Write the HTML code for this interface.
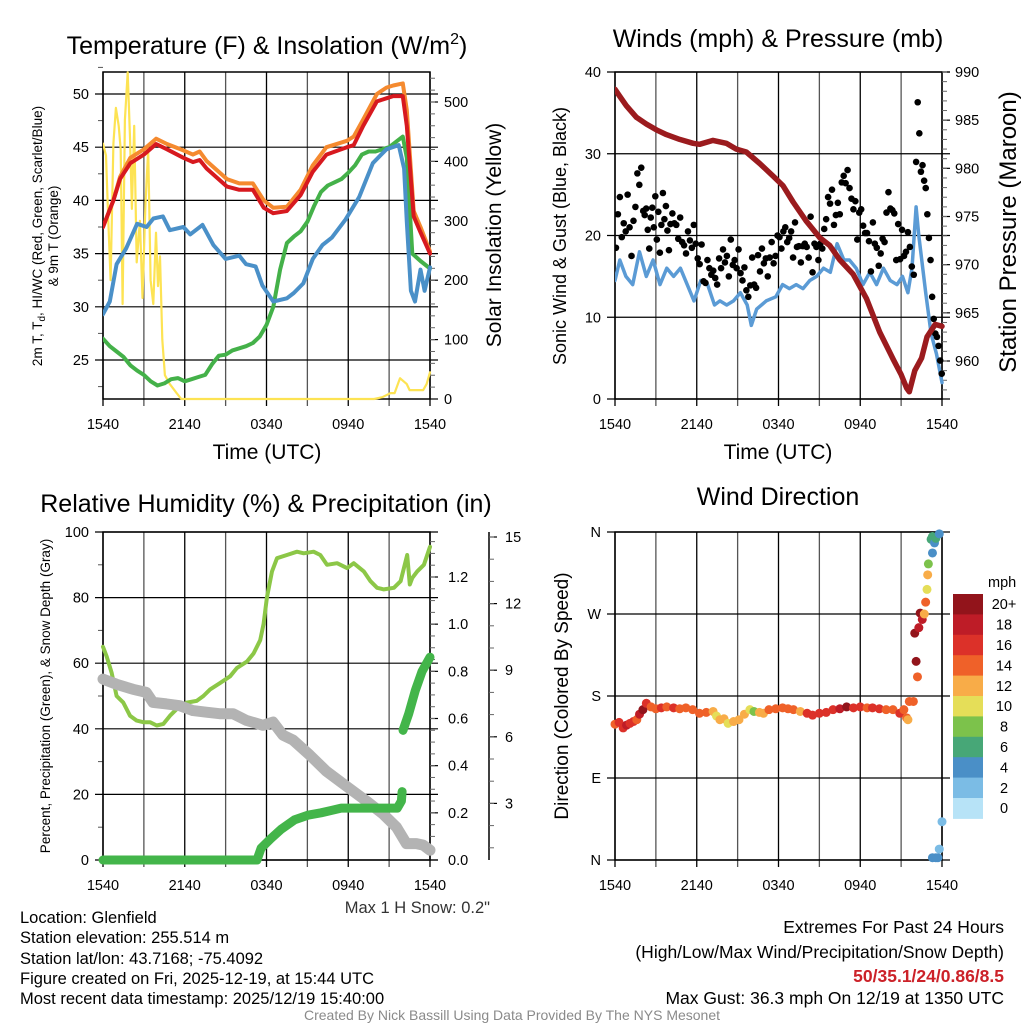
<!DOCTYPE html>
<html><head><meta charset="utf-8">
<style>
html,body{margin:0;padding:0;background:#fff;}
svg{display:block;font-family:"Liberation Sans",Arial,sans-serif;}
</style></head>
<body>
<svg id="chart" width="1024" height="1024" viewBox="0 0 1024 1024" xmlns="http://www.w3.org/2000/svg">
<rect width="1024" height="1024" fill="#fff"/>
<g id="layer"></g>
<!-- static text -->
<text x="267" y="54" font-size="25" text-anchor="middle">Temperature (F) &amp; Insolation (W/m<tspan dy="-10" font-size="16">2</tspan><tspan dy="10">)</tspan></text>
<text x="778" y="47" font-size="25" text-anchor="middle">Winds (mph) &amp; Pressure (mb)</text>
<text x="266" y="512" font-size="25" text-anchor="middle">Relative Humidity (%) &amp; Precipitation (in)</text>
<text x="778" y="505" font-size="25" text-anchor="middle">Wind Direction</text>

<text x="267" y="459" font-size="21" text-anchor="middle">Time (UTC)</text>
<text x="778" y="459" font-size="21" text-anchor="middle">Time (UTC)</text>

<text transform="translate(42,236) rotate(-90)" font-size="13.5" text-anchor="middle">2m T, T<tspan dy="3" font-size="10">d</tspan><tspan dy="-3">, HI/WC (Red, Green, Scarlet/Blue)</tspan></text>
<text transform="translate(58,236) rotate(-90)" font-size="13.5" text-anchor="middle">&amp; 9m T (Orange)</text>
<text transform="translate(501,235) rotate(-90)" font-size="21" text-anchor="middle">Solar Insolation (Yellow)</text>
<text transform="translate(566,236) rotate(-90)" font-size="18" text-anchor="middle">Sonic Wind &amp; Gust (Blue, Black)</text>
<text transform="translate(1016,232) rotate(-90)" font-size="24" text-anchor="middle">Station Pressure (Maroon)</text>
<text transform="translate(50,696) rotate(-90)" font-size="13.5" text-anchor="middle">Percent, Precipitation (Green), &amp; Snow Depth (Gray)</text>
<text transform="translate(568,696) rotate(-90)" font-size="19" text-anchor="middle">Direction (Colored By Speed)</text>

<text x="490" y="913" font-size="16.5" fill="#333" text-anchor="end">Max 1 H Snow: 0.2"</text>

<g font-size="16.5">
<text x="20" y="923">Location: Glenfield</text>
<text x="20" y="943">Station elevation: 255.514 m</text>
<text x="20" y="964">Station lat/lon: 43.7168; -75.4092</text>
<text x="20" y="984">Figure created on Fri, 2025-12-19, at 15:44 UTC</text>
<text x="20" y="1004">Most recent data timestamp: 2025/12/19 15:40:00</text>
</g>
<g font-size="17.5" text-anchor="end">
<text x="1004" y="933">Extremes For Past 24 Hours</text>
<text x="1004" y="958">(High/Low/Max Wind/Precipitation/Snow Depth)</text>
<text x="1004" y="982" fill="#cc2229" font-weight="bold">50/35.1/24/0.86/8.5</text>
<text x="1004" y="1004">Max Gust: 36.3 mph On 12/19 at 1350 UTC</text>
</g>
<text x="512" y="1020" font-size="14" fill="#8a8a8a" text-anchor="middle">Created By Nick Bassill Using Data Provided By The NYS Mesonet</text>
</svg>
<script>
// ---------- DATA ----------
const timeTickLabels = ["1540","2140","0340","0940","1540"];
// Panel 1 (hours since 1540 UTC)
const tempHours = [0,0.76,1.25,2,3,3.9,4.7,5.9,6.6,7.1,7.6,9.1,10,11,11.8,12.5,13.5,14.5,15.4,16.4,17.9,18.4,19.1,20.1,20.8,21.3,22,22.3,22.8,23.3,24];
const tempRed    = [37.5,40,42,43.5,44.3,45.3,44.8,44,43.6,43.8,43,41.3,41,41,39.3,38.8,39,40.5,42.7,44.3,45,45.2,47,49.3,49.6,49.8,49.8,47,38.5,37,35];
const tempOrange = [37.5,40,42.2,44,44.8,45.8,45.3,44.7,44.3,44.6,43.7,42,41.6,41.6,40,39.3,39.4,41,43.3,45,45.6,46,47.6,50,50.6,50.8,51,48.5,39,37.5,35.2];
const dewHours = [0,0.5,1,1.5,2,2.5,3,3.5,4,4.5,5,5.5,6,6.5,7,7.5,8,8.5,9,9.5,10,10.5,11,11.5,12,12.5,13,13.5,14,14.5,15,15.5,16,16.5,17,17.5,18,18.5,19,19.5,20,20.5,21,21.5,22,22.3,22.7,23.3,24];
const dewGreen   = [27,26.3,25.8,25.3,24.5,24,23.6,23,22.6,22.8,23.2,23.3,23,23.2,23.4,23.6,24.6,25.4,25.5,25.9,26.1,26.3,26.6,27.2,28.3,30,33.5,36,36.6,37.1,38,39.5,40.8,41.4,41.7,42,42.6,43.3,44.3,44.6,44.6,44.8,45,45.5,46,44,35,34.3,33.6];
const chillHours = [0,0.5,1,1.7,2.5,3.2,3.7,4.4,4.9,5.9,6.4,7.3,8.1,9,10,10.5,11.2,11.7,12.5,13.5,14,14.7,15.4,16.1,16.8,17.8,18.8,19.8,20.8,21.7,22.1,22.3,22.6,22.9,23.3,23.6,24];
const chillBlue  = [29.3,30.5,34,35.5,37.8,37.5,38.3,38.5,37.2,37.5,36.8,37.7,35.8,34.5,34.8,34,33.8,32,30.5,30.8,31.3,32.2,34.5,35.8,36.5,38.2,40.3,43.5,44.8,45.2,43,38,31.5,30.5,33.5,31.5,33.7];
const solarHours = [0,0.22,0.39,0.56,0.76,0.95,1.15,1.3,1.44,1.61,1.81,1.98,2.12,2.29,2.47,2.71,2.9,3.12,3.32,3.49,3.69,3.89,4.04,4.18,4.35,4.54,4.9,5.4,5.75,12,19.9,20.5,21.1,21.4,21.8,22.3,22.5,23.5,23.75,24];
const solarYellow= [430,410,300,200,430,490,460,420,160,470,550,440,320,460,230,300,170,330,420,200,160,280,190,240,100,40,25,10,0,0,0,3,10,10,35,25,15,15,25,45];

// Panel 2
const windHours = [0,0.35,0.8,1.3,1.8,2.3,2.8,3.3,3.8,4.3,4.8,5.3,5.8,6.3,6.8,7.3,7.7,8.2,8.7,9.2,9.7,10.0,10.4,11.1,11.8,12.3,12.8,13.3,13.8,14.3,14.8,15.3,15.8,16.3,16.8,17.2,17.7,18.2,18.7,19.2,19.7,20.2,20.7,21.1,21.5,21.8,22.1,22.3,22.8,23.2,23.6,24];
const windBlue  = [14.5,17,15,14,18,15,17,14,16,15,16,14,12,14.5,14,11.5,12,11.5,12,13,11.5,9,11,12,12.5,14,13.5,14,13.5,14.5,15,16,15.5,19,17,17,16,14,15.5,14,16,14.5,14,15,13,16,23.5,20,13,8,5.5,2];
const pressHours = [0,0.34,0.83,1.57,2.3,3.03,3.77,4.75,5.73,6.21,7.19,8.17,8.9,9.64,10.62,11.6,12.33,13.07,14.05,15.03,15.76,16.5,17.48,18.45,19.43,20.41,21.0,21.4,21.6,22.0,22.5,22.9,23.5,24];
const pressMaroon= [988.2,987.5,986.5,985.3,984.6,984,983.5,983,982.6,982.5,982.9,982.6,982,981.7,980.5,979.2,978.2,976.5,974.5,972.8,972,970.5,969,966.5,963,960.2,958.6,957.2,956.8,959,960.3,962.5,963.8,963.6];
// Gusts: one block of values per 2-hour window (12 windows)
const gustBlocks = [
 [18.5,22.6,24.7,19.8,21.5,20.5,25,21,17.5,21.8,23.5,27.6,26.2,28.3],
 [23,22.5,23.3,20.7,18.4,22.2,23.4,21,24.8,19.5,22.9,17.9,21.3,25.2,22,23.6,20.6,18.2],
 [21.4,22.7,21.5,21.3,19.6,22.2,19.2,18.8,17.8,20.5,19.4,18.5,21.3,19],
 [17.2,16.5,18.9,14.4,14.2,17,16,15.2,15.7,14.8,14,17.2,16,18.3],
 [16.7,17.5,15,19.5,16.4,17,16,18.3,15.4,14.5,16.1,13.3,12.5,13.9],
 [17.3,14,13.6,17.6,15.6,18.4,16.6,17.2,15,17.3,19.2,16.6,17.5,20],
 [19.8,18.4,20.5,21,19.2,19.7,20.5,17.3,21.6,18.6,18.7,16.7,18.7,19],
 [18.6,17.3,22.3,15.5,19,18.6,17,19,18.4,20.8,22,24.7,23.9,25.6],
 [21.3,22.5,24,22.6,26.5,27.3,26.4,28,25.8,24.5,23.2,24.2,19.5,22.8],
 [23.2,21.2,20.3,20.3,19.3,15.6,21.6,19,18.5,16.3,17.8,19.6,19.2,22.8],
 [25.3,23.3,23.1,22.7,17,21.4,17.1,20.7,17.5,18,20.4,18.6,16.2,15.2],
 [29,36.3,32.5,27.8,28.6,26.7,25.8,22.6,19.7,17,12.5,9.8,8,7.6,6.5,4.7,3.1]
];

// Panel 3
const rhHours = [0,0.27,0.64,1.0,1.49,1.98,2.47,2.96,3.45,3.94,4.43,4.92,5.41,6.15,6.88,7.37,7.86,8.6,9.33,9.82,10.56,11.05,11.54,11.79,12.03,12.4,12.77,13.5,14.24,14.73,15.46,15.95,16.44,17.18,17.91,18.4,19.14,19.63,20.12,20.61,21.35,21.84,22.33,22.52,22.7,23.06,23.55,24];
const rhPercent = [65,62,57,50,48,44,42.5,42,42,41,41.5,44,46,48,48.5,50,52,54,56,58.5,60.5,63,67,72,80,88,92,93,94,93.5,94,93,90,90.5,89,90.5,88,85,83,82.5,83,85,93,84,86,88,90,95.5];
const precipHours = [0,11.3,11.6,12.3,13.07,14.05,15.03,16.0,16.74,17.48,18.94,20.41,21.6,21.9,21.95,22.02,22.44,22.93,23.42,24];
const precipInches= [0,0,0.05,0.09,0.13,0.17,0.19,0.2,0.21,0.22,0.22,0.22,0.22,0.25,0.29,0.55,0.62,0.72,0.80,0.86];
const snowHours = [0,0.98,2.2,3.18,3.67,4.65,5.63,6.6,7.58,8.56,9.54,10.52,11.74,12.48,13.21,13.95,15.17,16.39,17.86,19.33,20.56,21.54,22.27,23.0,23.5,24];
const snowInches = [8.6,8.37,8.14,8.0,7.55,7.48,7.4,7.18,7.11,7.04,7.04,6.74,6.52,6.66,6.07,5.85,5.18,4.45,3.78,3.11,2.52,1.93,1.19,1.19,1.12,0.89];

// Panel 4 (direction in degrees, speed in mph)
const dirHours = [0,0.3,0.6,0.85,1.1,1.35,1.6,1.8,2.05,2.3,2.65,3.0,3.4,3.8,4.3,4.75,5.2,5.7,6.2,6.7,7.2,7.45,7.7,8.0,8.3,8.7,9.1,9.5,9.9,10.2,10.6,10.9,11.3,11.8,12.3,12.7,13.1,13.6,14.1,14.5,15.0,15.5,16.0,16.5,17.0,17.5,18.0,18.5,18.9,19.4,19.9,20.4,20.9,21.2,21.4,21.5,21.6,21.9,22.0,22.1,22.2,22.3,22.4,22.55,22.7,22.8,22.9,22.95,23.0,23.2,23.3,23.3,23.45,23.55,23.8,23.3,23.55,23.7,23.8,24];
const dirDegrees = [149,151,145,148,150,152,154,160,165,172,168,166,167,168,167,166,167,165,161,162,163,158,154,155,150,152,154,160,165,163,162,161,165,166,167,166,165,163,161,159,161,162,165,166,168,167,168,167,167,166,165,165,161,165,156,154,174,174,249,218,201,255,271,264,270,283,297,313,325,352,337,355,348,353,358,2.5,2.5,2.5,12,42];
const dirSpeed   = [14,16,17,18,16,17,15,18,20,16,15,14,16,15,16,15,14,15,14,15,12,11,12,12,11,13,12,12,10,9,12,13,14,15,14,14,15,13,16,16,17,17,17,18,20,17,16,15,17,16,15,15,16,14,14,12,14,14,20,20,14,18,20,18,12,14,10,12,8,6,4,6,4,6,4,4,4,4,2,2];
const speedBins = ["0","2","4","6","8","10","12","14","16","18","20+"];
const speedColors = ["#b7e3f7","#7bbce5","#4a8fc7","#47a777","#7cc24b","#e5de58","#f8ac48","#ef6129","#dc3129","#be1c27","#92141b"];

// ---------- DRAWING ----------
const NS="http://www.w3.org/2000/svg";
const layer=document.getElementById('layer');
function el(tag,attrs,parent){const e=document.createElementNS(NS,tag);for(const k in attrs)e.setAttribute(k,attrs[k]);(parent||layer).appendChild(e);return e;}
function lin(d0,d1,r0,r1){return v=>r0+(v-d0)/(d1-d0)*(r1-r0);}

function panelFrame(g,L,R,T,B,yLeftTicks,yLeftFn,labelFmt,minorLeft){
  const x=lin(0,24,L,R);
  for(let h=0;h<=24;h+=3){
    const ln=el('line',{x1:x(h),x2:x(h),y1:T,y2:B+7,stroke:(h%6===0?'#000':'#555'),'stroke-width':1.3},g);
    
    
  }
  timeTickLabels.forEach((lab,i)=>{
    const t=el('text',{x:x(i*6),y:B+30,'font-size':14.5,'text-anchor':'middle'},g);
    t.textContent=lab;
    
    
  });
  yLeftTicks.forEach(v=>{
    const yy=yLeftFn(v);
    const ln=el('line',{x1:L-8,x2:R+8,y1:yy,y2:yy,stroke:'#000','stroke-width':1.2},g);
    
    
    const t=el('text',{x:L-14,y:yy+5,'font-size':14.5,'text-anchor':'end'},g);
    t.textContent=labelFmt(v);
    
    
  });
  (minorLeft||[]).forEach(v=>{
    const yy=yLeftFn(v);
    const ln=el('line',{x1:L-5,x2:L,y1:yy,y2:yy,stroke:'#555','stroke-width':1},g);
    
    
  });
  const fr=el('rect',{x:L,y:T,width:R-L,height:B-T,fill:'none',stroke:'#000','stroke-width':1.5},g);
  
  
  return x;
}
function rightAxis(g,X,T,B,ticks,fn,fmt,minor,lx){
  ticks.forEach(v=>{
    const yy=fn(v);
    const ln=el('line',{x1:X,x2:X+8,y1:yy,y2:yy,stroke:'#000','stroke-width':1.2},g);
    
    
    const t=el('text',{x:lx,y:yy+5,'font-size':14.5},g);
    t.textContent=fmt(v);
    
    
  });
  minor.forEach(v=>{
    const yy=fn(v);
    if(yy<T-0.5||yy>B+0.5)return;
    const ln=el('line',{x1:X,x2:X+5,y1:yy,y2:yy,stroke:'#666','stroke-width':1},g);
    
    
  });
}
function path(g,xs,ys,xf,yf,color,w,name){
  let d='';xs.forEach((h,i)=>{d+=(i?'L':'M')+xf(h).toFixed(1)+','+yf(ys[i]).toFixed(1);});
  const p=el('path',{d:d,fill:'none',stroke:color,'stroke-width':w,'stroke-linejoin':'round','stroke-linecap':'round'},g);
  
  
  return p;
}
function clip(id,L,T,R,B){const cp=el('clipPath',{id:id});el('rect',{x:L,y:T,width:R-L,height:B-T},cp);}

// Panel 1
(function(){
  const g=el('g',{});
  const L=103,R=430,T=72,B=399;
  const y=lin(25,50,360,94);
  const minor=[];for(let v=22.5;v<=52.5;v+=5)minor.push(v);
  const x=panelFrame(g,L,R,T,B,[25,30,35,40,45,50],y,v=>String(v),minor);
  const yr=lin(0,500,399,102);
  const rmin=[];for(let v=20;v<=550;v+=20)rmin.push(v);
  rightAxis(g,R,T,B,[0,100,200,300,400,500],yr,v=>String(v),rmin,444);
  clip('c1',L,T-2,R+3,B+2);
  const dg=el('g',{'clip-path':'url(#c1)'},g);
  path(dg,solarHours,solarYellow,x,yr,'#fde353',2.2,'solar-insolation-line');
  path(dg,dewHours,dewGreen,x,y,'#44b149',4,'dewpoint-line');
  path(dg,chillHours,chillBlue,x,y,'#4a90c8',4,'windchill-line');
  path(dg,tempHours,tempOrange,x,y,'#f58a2f',4,'temp-9m-line');
  path(dg,tempHours,tempRed,x,y,'#d7191f',4,'temp-2m-line');
})();

// Panel 2
(function(){
  const g=el('g',{});
  const L=615,R=942,T=72,B=399;
  const y=lin(0,40,399,72);
  const x=panelFrame(g,L,R,T,B,[0,10,20,30,40],y,v=>String(v),[]);
  const yr=lin(960,990,361,72);
  const rmin=[];for(let v=957;v<=990;v+=1)rmin.push(v);
  rightAxis(g,R,T,B,[960,965,970,975,980,985,990],yr,v=>String(v),rmin,955);
  clip('c2',L,T-4,R+4,B+2);
  const dg=el('g',{'clip-path':'url(#c2)'},g);
  path(dg,windHours,windBlue,x,y,'#5b9bd5',3.5,'sonic-wind-line');
  gustBlocks.forEach((blk,bi)=>{
    blk.forEach((v,j)=>{
      const h=bi*2+j*2/blk.length + (bi===gustBlocks.length-1? 0.1:0.07);
      const c=el('circle',{cx:x(Math.min(h,24)),cy:y(v),r:3.3,fill:'#000'},dg);
      
      
    });
  });
  path(dg,pressHours,pressMaroon,x,yr,'#9b1b1e',5.5,'station-pressure-line');
})();

// Panel 3
(function(){
  const g=el('g',{});
  const L=103,R=430,T=532,B=860;
  const y=lin(0,100,860,532);
  const minor=[];for(let v=10;v<=90;v+=20)minor.push(v);
  const x=panelFrame(g,L,R,T,B,[0,20,40,60,80,100],y,v=>String(v),minor);
  const yp=lin(0,1.2,860,577);
  const pmin=[];for(let v=0.05;v<=1.4;v+=0.05)pmin.push(+v.toFixed(2));
  rightAxis(g,R,T,B,[0,0.2,0.4,0.6,0.8,1.0,1.2],yp,v=>v.toFixed(1),pmin,448);
  const ys=lin(0,15,870,537);
  const ax=el('line',{x1:489,x2:489,y1:532,y2:860,stroke:'#000','stroke-width':1.5},g);
  
  const smin=[];for(let v=1;v<=15;v+=1)smin.push(v);
  rightAxis(g,489,T,B,[3,6,9,12,15],ys,v=>String(v),smin,505);
  const dg=el('g',{},g);
  path(dg,rhHours,rhPercent,x,y,'#8cc747',4,'relative-humidity-line');
  path(dg,snowHours,snowInches,x,ys,'#b3b3b3',11,'snow-depth-line');
  const gap=precipInches.findIndex((v,i)=>i>0&&v-precipInches[i-1]>0.15);
  path(dg,precipHours.slice(0,gap),precipInches.slice(0,gap),x,yp,'#43b54a',9,'precipitation-line');
  path(dg,precipHours.slice(gap),precipInches.slice(gap),x,yp,'#43b54a',9,'precipitation-line-2');
})();

// Panel 4
(function(){
  const g=el('g',{});
  const L=615,R=942,T=532,B=860;
  const y=lin(0,360,860,532);
  const names=['N','E','S','W','N'];
  const x=panelFrame(g,L,R,T,B,[0,90,180,270,360],y,v=>names[v/90],[]);
  dirHours.forEach((h,i)=>{
    const bin=Math.min(10,Math.floor(dirSpeed[i]/2));
    const c=el('circle',{cx:x(h),cy:y(dirDegrees[i]),r:4.5,fill:speedColors[bin]},g);
    
    
  });
  const cb=el('g',{},g);
  const top=594,h=20.4;
  const ut=el('text',{x:988,y:587,'font-size':14.5},cb);ut.textContent='mph';
  
  speedBins.slice().reverse().forEach((lab,i)=>{
    const idx=speedBins.length-1-i;
    const r=el('rect',{x:953,y:top+i*h,width:30,height:h+0.5,fill:speedColors[idx]},cb);
    
    const t=el('text',{x:1004,y:top+i*h+h/2+5,'font-size':14.5,'text-anchor':'middle'},cb);
    t.textContent=lab;
    
  });
})();
</script>
</body></html>
